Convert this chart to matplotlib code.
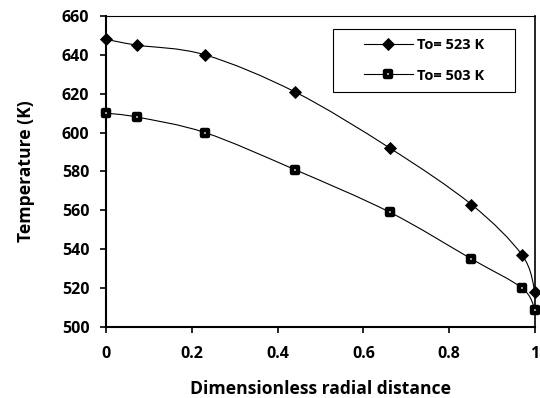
import numpy as np
import matplotlib.pyplot as plt
from matplotlib.path import Path
from matplotlib.patches import PathPatch, Rectangle
from matplotlib.markers import MarkerStyle

# data
x_r = [0, 0.072, 0.231, 0.44, 0.662, 0.852, 0.97, 1.0]
T_523 = [648, 645, 640, 621, 592, 563, 537, 518]
T_503 = [610, 608, 600, 581, 559, 535, 520, 509]
labels = ['To= 523 K', 'To= 503 K']

plt.rcParams['font.family'] = ['Open Sans', 'DejaVu Sans']
plt.rcParams['font.weight'] = 'bold'


# smooth line like the spreadsheet one, drawn as bezier segments
def smooth_path(xs, ys):
    p = np.column_stack([xs, ys]).astype(float)
    n = len(p)
    verts = [p[0]]
    codes = [Path.MOVETO]
    for i in range(n - 1):
        p0 = p[i - 1] if i > 0 else p[i]
        p3 = p[i + 2] if i + 2 < n else p[i + 1]
        c1 = p[i] + (p[i + 1] - p0) / 6
        c2 = p[i + 1] - (p3 - p[i]) / 6
        verts += [c1, c2, p[i + 1]]
        codes += [Path.CURVE4] * 3
    return Path(verts, codes)


fig = plt.figure(figsize=(5.4, 3.98), dpi=100)
ax = fig.add_axes([0.1963, 0.1784, 0.7944, 0.7814])

sq = MarkerStyle('s', joinstyle='round')
dm = MarkerStyle('D', joinstyle='miter')

for ys in [T_523, T_503]:
    ax.add_patch(PathPatch(smooth_path(x_r, ys), facecolor='none',
                           edgecolor='black', lw=0.8, zorder=2))

ax.plot(x_r, T_523, linestyle='none', marker=dm, ms=5.8, mfc='black',
        mec='black', mew=0.6, zorder=3, clip_on=False)
ax.plot(x_r, T_503, linestyle='none', marker=sq, ms=5.0, mfc='white',
        mec='black', mew=3.2, zorder=3, clip_on=False)

# legend box drawn by hand, entries without frame
ax.add_patch(Rectangle((0.529, 0.756), 0.424, 0.202, transform=ax.transAxes,
                       facecolor='white', edgecolor='black', lw=0.8, zorder=4))
h1, = ax.plot([], [], color='black', lw=0.8, marker=dm, ms=5.8, mfc='black', mec='black', mew=0.6)
h2, = ax.plot([], [], color='black', lw=0.8, marker=sq, ms=5.0, mfc='white', mec='black', mew=3.2)
leg = ax.legend([h1, h2], labels, loc='upper left', bbox_to_anchor=(0.601, 0.93),
                frameon=False, fontsize=10.5, handlelength=3.36,
                labelspacing=1.15, borderpad=0, borderaxespad=0, handletextpad=0.3)
leg.set_zorder(5)
for t in leg.get_texts():
    t.set_fontweight('bold')

ax.set_xlim(0, 1)
ax.set_ylim(500, 660)
ax.set_xticks([0, 0.2, 0.4, 0.6, 0.8, 1])
ax.set_xticklabels(['0', '0.2', '0.4', '0.6', '0.8', '1'])
ax.set_yticks(np.arange(500, 661, 20))

ax.tick_params(direction='out', length=4, width=1.2, labelsize=11.5)
ax.tick_params(axis='x', pad=10)
ax.tick_params(axis='y', pad=8)
for s in ['left', 'bottom']:
    ax.spines[s].set_linewidth(1.5)
ax.spines['right'].set_linewidth(1.2)
ax.spines['top'].set_linewidth(0.8)

ax.set_xlabel('Dimensionless radial distance', fontsize=12.6, fontweight='bold', labelpad=13)
ax.set_ylabel('Temperature (K)', fontsize=12.6, fontweight='bold', labelpad=19)

plt.savefig('out.png', dpi=100)
